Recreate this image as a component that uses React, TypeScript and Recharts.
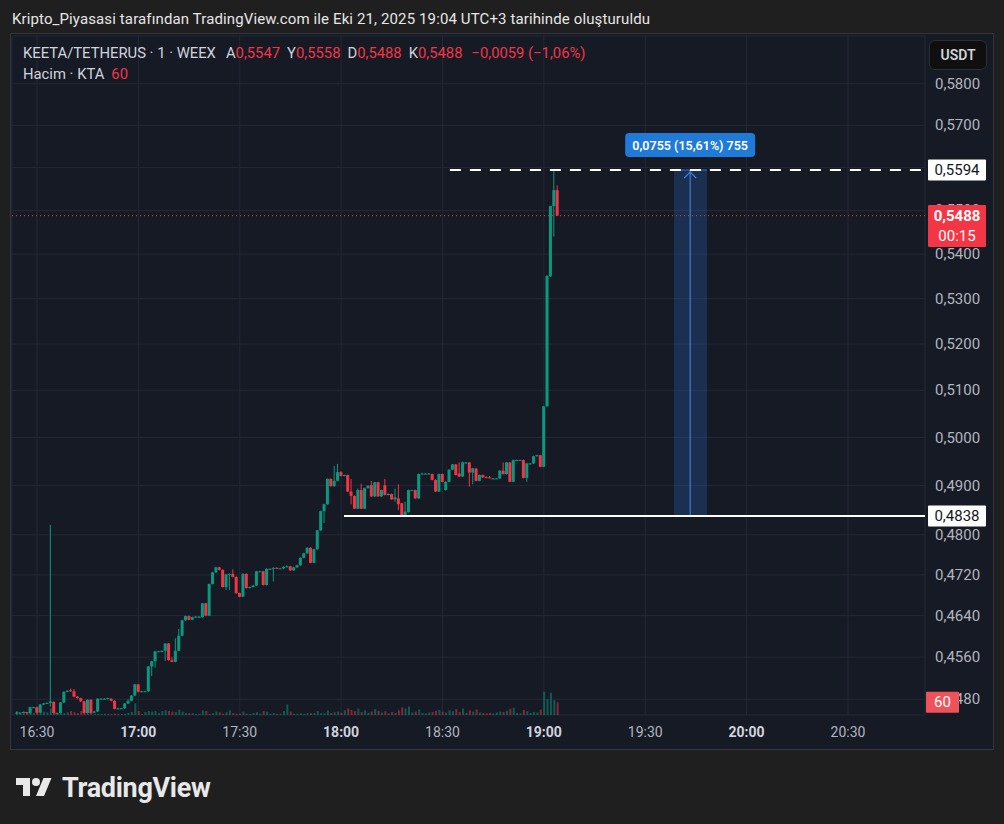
import React from 'react';
import {
  ComposedChart, Bar, XAxis, YAxis, CartesianGrid, ReferenceLine,
  ReferenceArea, ReferenceDot, Cell,
} from 'recharts';

// 1-minute candles, first one at 16:24
const FIRST_MINUTE = 16 * 60 + 24;

const opens = [
  0.4454, 0.4455, 0.4455, 0.4456, 0.4454, 0.4465, 0.4465, 0.4455, 0.4470, 0.4472,
  0.4473, 0.4475, 0.4454, 0.4454, 0.4474, 0.4494, 0.4497, 0.4495, 0.4485, 0.4482,
  0.4476, 0.4454, 0.4479, 0.4455, 0.4457, 0.4481, 0.4481, 0.4481, 0.4481, 0.4477,
  0.4462, 0.4463, 0.4463, 0.4472, 0.4477, 0.4487, 0.4508, 0.4494, 0.4495, 0.4495,
  0.4542, 0.4552, 0.4571, 0.4571, 0.4572, 0.4586, 0.4554, 0.4551, 0.4572, 0.4601,
  0.4631, 0.4639, 0.4632, 0.4637, 0.4638, 0.4637, 0.4664, 0.4640, 0.4702, 0.4725,
  0.4735, 0.4730, 0.4696, 0.4721, 0.4722, 0.4716, 0.4684, 0.4677, 0.4722, 0.4694,
  0.4696, 0.4699, 0.4727, 0.4727, 0.4700, 0.4732, 0.4732, 0.4734, 0.4733, 0.4733,
  0.4736, 0.4737, 0.4729, 0.4735, 0.4739, 0.4754, 0.4763, 0.4774, 0.4744, 0.4771,
  0.4809, 0.4848, 0.4862, 0.4914, 0.4899, 0.4910, 0.4928, 0.4920, 0.4922, 0.4888,
  0.4879, 0.4853, 0.4891, 0.4853, 0.4895, 0.4901, 0.4878, 0.4907, 0.4878, 0.4901,
  0.4881, 0.4883, 0.4872, 0.4874, 0.4864, 0.4840, 0.4846, 0.4891, 0.4891, 0.4874,
  0.4924, 0.4925, 0.4925, 0.4924, 0.4912, 0.4888, 0.4924, 0.4891, 0.4908, 0.4933,
  0.4944, 0.4925, 0.4919, 0.4946, 0.4948, 0.4927, 0.4935, 0.4910, 0.4922, 0.4918,
  0.4917, 0.4914, 0.4915, 0.4915, 0.4931, 0.4924, 0.4948, 0.4908, 0.4952, 0.4952,
  0.4953, 0.4916, 0.4945, 0.4946, 0.4961, 0.4963, 0.4939, 0.5066, 0.5350, 0.5510,
  0.5547,
];

const highs = [
  0.4456, 0.4456, 0.4457, 0.4456, 0.4466, 0.4466, 0.4466, 0.4471, 0.4473, 0.4474,
  0.4820, 0.4476, 0.4455, 0.4475, 0.4495, 0.4497, 0.4500, 0.4499, 0.4486, 0.4483,
  0.4477, 0.4480, 0.4480, 0.4458, 0.4482, 0.4482, 0.4482, 0.4483, 0.4482, 0.4478,
  0.4464, 0.4464, 0.4473, 0.4480, 0.4488, 0.4509, 0.4509, 0.4496, 0.4496, 0.4543,
  0.4553, 0.4572, 0.4572, 0.4573, 0.4587, 0.4587, 0.4560, 0.4596, 0.4614, 0.4632,
  0.4640, 0.4640, 0.4638, 0.4639, 0.4639, 0.4665, 0.4665, 0.4703, 0.4726, 0.4736,
  0.4736, 0.4731, 0.4722, 0.4723, 0.4731, 0.4717, 0.4685, 0.4723, 0.4723, 0.4697,
  0.4700, 0.4728, 0.4728, 0.4728, 0.4733, 0.4733, 0.4735, 0.4735, 0.4734, 0.4737,
  0.4739, 0.4738, 0.4736, 0.4740, 0.4755, 0.4764, 0.4775, 0.4775, 0.4772, 0.4810,
  0.4849, 0.4863, 0.4915, 0.4915, 0.4941, 0.4945, 0.4930, 0.4923, 0.4923, 0.4914,
  0.4880, 0.4894, 0.4904, 0.4896, 0.4901, 0.4910, 0.4908, 0.4908, 0.4892, 0.4914,
  0.4884, 0.4884, 0.4894, 0.4903, 0.4865, 0.4867, 0.4892, 0.4892, 0.4892, 0.4925,
  0.4927, 0.4926, 0.4926, 0.4925, 0.4913, 0.4925, 0.4925, 0.4909, 0.4934, 0.4945,
  0.4945, 0.4948, 0.4950, 0.4949, 0.4949, 0.4937, 0.4937, 0.4923, 0.4923, 0.4919,
  0.4920, 0.4916, 0.4916, 0.4932, 0.4948, 0.4949, 0.4949, 0.4954, 0.4954, 0.4954,
  0.4954, 0.4947, 0.4947, 0.4962, 0.4964, 0.4964, 0.5067, 0.5352, 0.5511, 0.5594,
  0.5558,
];

const lows = [
  0.4452, 0.4453, 0.4454, 0.4453, 0.4453, 0.4464, 0.4453, 0.4454, 0.4469, 0.4471,
  0.4466, 0.4453, 0.4453, 0.4453, 0.4473, 0.4493, 0.4494, 0.4484, 0.4481, 0.4475,
  0.4453, 0.4453, 0.4453, 0.4454, 0.4456, 0.4480, 0.4480, 0.4480, 0.4476, 0.4461,
  0.4461, 0.4462, 0.4462, 0.4471, 0.4476, 0.4486, 0.4493, 0.4493, 0.4494, 0.4494,
  0.4524, 0.4540, 0.4570, 0.4569, 0.4553, 0.4553, 0.4550, 0.4550, 0.4571, 0.4600,
  0.4630, 0.4631, 0.4631, 0.4636, 0.4635, 0.4636, 0.4639, 0.4639, 0.4701, 0.4724,
  0.4729, 0.4695, 0.4690, 0.4690, 0.4715, 0.4683, 0.4676, 0.4676, 0.4693, 0.4693,
  0.4695, 0.4698, 0.4726, 0.4699, 0.4699, 0.4731, 0.4707, 0.4732, 0.4732, 0.4731,
  0.4735, 0.4728, 0.4728, 0.4734, 0.4738, 0.4753, 0.4762, 0.4743, 0.4743, 0.4770,
  0.4808, 0.4824, 0.4861, 0.4898, 0.4898, 0.4909, 0.4919, 0.4919, 0.4887, 0.4862,
  0.4852, 0.4852, 0.4852, 0.4852, 0.4894, 0.4877, 0.4877, 0.4877, 0.4877, 0.4880,
  0.4880, 0.4871, 0.4867, 0.4850, 0.4839, 0.4839, 0.4845, 0.4890, 0.4873, 0.4873,
  0.4923, 0.4924, 0.4924, 0.4911, 0.4887, 0.4887, 0.4907, 0.4890, 0.4907, 0.4932,
  0.4921, 0.4918, 0.4918, 0.4945, 0.4898, 0.4903, 0.4909, 0.4909, 0.4916, 0.4915,
  0.4915, 0.4913, 0.4914, 0.4914, 0.4923, 0.4923, 0.4907, 0.4907, 0.4951, 0.4951,
  0.4915, 0.4908, 0.4944, 0.4945, 0.4960, 0.4938, 0.4938, 0.5065, 0.5349, 0.5440,
  0.5488,
];

const closes = [
  0.4455, 0.4455, 0.4456, 0.4454, 0.4465, 0.4465, 0.4455, 0.4470, 0.4472, 0.4473,
  0.4476, 0.4454, 0.4454, 0.4474, 0.4494, 0.4496, 0.4495, 0.4485, 0.4482, 0.4476,
  0.4454, 0.4479, 0.4454, 0.4457, 0.4481, 0.4481, 0.4481, 0.4482, 0.4477, 0.4462,
  0.4463, 0.4463, 0.4472, 0.4477, 0.4487, 0.4508, 0.4494, 0.4495, 0.4495, 0.4542,
  0.4552, 0.4571, 0.4571, 0.4572, 0.4586, 0.4554, 0.4551, 0.4572, 0.4601, 0.4631,
  0.4639, 0.4632, 0.4637, 0.4638, 0.4638, 0.4664, 0.4640, 0.4702, 0.4725, 0.4735,
  0.4730, 0.4696, 0.4721, 0.4722, 0.4716, 0.4684, 0.4677, 0.4722, 0.4694, 0.4696,
  0.4699, 0.4727, 0.4727, 0.4700, 0.4732, 0.4732, 0.4734, 0.4733, 0.4733, 0.4736,
  0.4737, 0.4729, 0.4735, 0.4739, 0.4754, 0.4763, 0.4774, 0.4744, 0.4771, 0.4809,
  0.4848, 0.4862, 0.4914, 0.4899, 0.4910, 0.4928, 0.4920, 0.4922, 0.4888, 0.4879,
  0.4853, 0.4891, 0.4853, 0.4895, 0.4900, 0.4878, 0.4907, 0.4878, 0.4891, 0.4881,
  0.4883, 0.4872, 0.4876, 0.4862, 0.4840, 0.4847, 0.4891, 0.4891, 0.4874, 0.4924,
  0.4925, 0.4925, 0.4925, 0.4912, 0.4888, 0.4924, 0.4908, 0.4908, 0.4933, 0.4944,
  0.4922, 0.4919, 0.4948, 0.4948, 0.4927, 0.4936, 0.4910, 0.4922, 0.4917, 0.4916,
  0.4916, 0.4915, 0.4915, 0.4931, 0.4924, 0.4948, 0.4908, 0.4953, 0.4953, 0.4953,
  0.4916, 0.4946, 0.4946, 0.4961, 0.4963, 0.4939, 0.5066, 0.5351, 0.5510, 0.5547,
  0.5488,
];

const volumes = [
  19, 5, 16, 8, 28, 9, 13, 22, 16, 13,
  31, 13, 5, 6, 9, 13, 19, 13, 9, 19,
  6, 5, 6, 5, 5, 5, 5, 5, 5, 6,
  5, 5, 5, 9, 14, 55, 19, 5, 14, 19,
  16, 19, 9, 19, 22, 19, 16, 14, 25, 16,
  9, 9, 8, 5, 6, 22, 19, 6, 8, 16,
  13, 6, 13, 22, 9, 6, 6, 16, 6, 6,
  9, 13, 6, 19, 16, 6, 9, 6, 6, 19,
  50, 16, 6, 6, 8, 6, 9, 8, 9, 19,
  9, 8, 22, 9, 13, 16, 11, 22, 31, 24,
  18, 30, 14, 22, 10, 16, 28, 20, 12, 18,
  8, 14, 10, 22, 36, 30, 40, 12, 16, 26,
  10, 8, 12, 14, 20, 24, 16, 12, 22, 18,
  28, 14, 30, 10, 22, 16, 26, 12, 10, 8,
  10, 8, 12, 16, 14, 20, 30, 34, 10, 8,
  24, 18, 10, 14, 12, 26, 110, 75, 105, 70,
  60,
];

const priceTicks = [0.448, 0.456, 0.464, 0.472, 0.48, 0.49, 0.5, 0.51, 0.52, 0.53, 0.54, 0.55, 0.56, 0.57, 0.58];
const timeTicks = [990, 1020, 1050, 1080, 1110, 1140, 1170, 1200, 1230];

const lastPrice = 0.5488;
const lastVolume = 60;
const rangeLow = 0.4838;
const rangeHigh = 0.5594;
const rangeLabel = '0,0755 (15,61%) 755';

const UP = '#089981';
const DOWN = '#f23645';
const FONT = 'Roboto, sans-serif';

const X_DOMAIN = [982.6, 1252.8];
const Y_DOMAIN = [0.44505, 0.59176];
const VOL_DOMAIN = [0, 3200];

const rows = opens.map((o, i) => ({
  t: FIRST_MINUTE + i,
  open: o,
  high: highs[i],
  low: lows[i],
  close: closes[i],
  range: [lows[i], highs[i]],
  vol: volumes[i],
}));

const fmt = (v: number) => v.toFixed(4).replace('.', ',');

// body + wick; open/close placed inside the low..high span on the log scale
const Candle = (props: any) => {
  const { x, y, width, height, payload } = props;
  if (x == null || y == null) return null;
  const top = Math.min(y, y + height);
  const bottom = Math.max(y, y + height);
  const { open, high, low, close } = payload;
  const span = Math.log(high) - Math.log(low);
  const toY = (v: number) => (span > 0 ? top + ((Math.log(high) - Math.log(v)) / span) * (bottom - top) : top);
  const color = close >= open ? UP : DOWN;
  const cx = x + width / 2;
  const yo = toY(open);
  const yc = toY(close);
  const bodyTop = Math.min(yo, yc);
  const bodyH = Math.max(Math.abs(yc - yo), 1);
  return (
    <g>
      <line x1={cx} x2={cx} y1={top} y2={bottom} stroke={color} strokeWidth={1} />
      <rect x={x} y={bodyTop} width={width} height={bodyH} fill={color} />
    </g>
  );
};

const TimeTick = (props: any) => {
  const { x, y, payload } = props;
  const m = payload.value;
  const onHour = m % 60 === 0;
  const label = `${Math.floor(m / 60)}:${String(m % 60).padStart(2, '0')}`;
  return (
    <text x={x} y={y + 17} textAnchor="middle" dominantBaseline="central"
      fill={onHour ? '#d1d4dc' : '#b2b5be'} fontWeight={onHour ? 700 : 400} fontSize={14} fontFamily={FONT}>
      {label}
    </text>
  );
};

const PriceTick = (props: any) => {
  const { x, y, payload } = props;
  return (
    <text x={x + 10} y={y} textAnchor="start" dominantBaseline="central" fill="#b2b5be" fontSize={15} fontFamily={FONT}>
      {fmt(payload.value)}
    </text>
  );
};

const tag = (text: string, bg: string, fg: string, w = 58, sub?: string, dx = 3) => (p: any) => {
  const vb = p.viewBox;
  if (!vb) return null;
  const x = vb.x + vb.width + dx;
  const y = vb.y;
  const h = sub ? 42 : 21;
  const top = y - 10.5;
  return (
    <g>
      <rect x={x} y={top} width={w} height={h} fill={bg} rx={1} />
      <text x={x + w / 2} y={y} textAnchor="middle" dominantBaseline="central" fill={fg} fontSize={15} fontFamily={FONT} fontWeight={sub ? 700 : 400}>
        {text}
      </text>
      {sub && (
        <text x={x + w / 2} y={y + 20} textAnchor="middle" dominantBaseline="central" fill={fg} fontSize={15} fontFamily={FONT}>
          {sub}
        </text>
      )}
    </g>
  );
};

const MeasureHead = (props: any) => {
  const { cx, cy } = props;
  if (cx == null || cy == null) return null;
  return (
    <g>
      <polyline points={`${cx - 6},${cy + 8} ${cx},${cy + 2} ${cx + 6},${cy + 8}`} fill="none" stroke="#3d7fe0" strokeWidth={1.2} />
      <rect x={cx - 65} y={cy - 37} width={130} height={24} rx={4} fill="#1f7ad8" />
      <text x={cx} y={cy - 25} textAnchor="middle" dominantBaseline="central" fill="#ffffff" fontSize={12.5} fontWeight={600} fontFamily={FONT}>
        {rangeLabel}
      </text>
    </g>
  );
};

const TvLogo = () => (
  <svg width="36" height="28" viewBox="0 0 36 28">
    <path d="M14 22H7V11H0V4h14v18zM28 22h-8l7.5-18h8L28 22z" fill="#e8e8e8" />
    <circle cx="20" cy="8" r="4" fill="#e8e8e8" />
  </svg>
);

export default function App() {
  const legendGrey = '#d1d4dc';
  const red = '#f23645';
  return (
    <div style={{ position: 'absolute', left: 0, top: 0, width: 1004, height: 824, background: '#1f1f1f', fontFamily: FONT, overflow: 'hidden' }}>
      <div style={{ position: 'absolute', left: 12, top: 10, fontSize: 15, letterSpacing: 0.12, color: '#e6e6e6', whiteSpace: 'nowrap' }}>
        Kripto_Piyasasi tarafından TradingView.com ile Eki 21, 2025 19:04 UTC+3 tarihinde oluşturuldu
      </div>
      <div style={{ position: 'absolute', left: 10, top: 33, width: 982, height: 715, background: '#161a25', border: '1px solid #33363f' }} />

      {/* price pane: grid, axes, volume, candles, drawings */}
      <div style={{ position: 'absolute', left: 0, top: 0 }}>
        <ComposedChart width={1004} height={824} data={rows} margin={{ top: 36, right: 14, bottom: 74, left: 12 }}>
          <CartesianGrid stroke="#242835" strokeWidth={1} />
          <XAxis dataKey="t" type="number" domain={X_DOMAIN} allowDataOverflow ticks={timeTicks}
            height={35} axisLine={false} tickLine={false} tickSize={0} tickMargin={0} tick={<TimeTick />} />
          <XAxis xAxisId="v" dataKey="t" type="number" domain={X_DOMAIN} allowDataOverflow hide />
          <YAxis orientation="right" scale="log" domain={Y_DOMAIN} allowDataOverflow ticks={priceTicks}
            width={65} axisLine={false} tickLine={false} tickSize={0} tickMargin={0} tick={<PriceTick />} interval={0} />
          <YAxis yAxisId="v" domain={VOL_DOMAIN} allowDataOverflow hide />
          <Bar xAxisId="v" yAxisId="v" dataKey="vol" barSize={2} isAnimationActive={false}>
            {rows.map((r, i) => (
              <Cell key={i} fill={r.close >= r.open ? 'rgba(8,153,129,0.5)' : 'rgba(242,54,69,0.5)'} />
            ))}
          </Bar>
          <ReferenceArea x1={1178.5} x2={1188.3} y1={rangeLow} y2={rangeHigh} fill="#2a6bd1" fillOpacity={0.26} stroke="none" />
          <ReferenceLine segment={[{ x: 1178.5, y: rangeHigh }, { x: 1188.3, y: rangeHigh }]} stroke="#2f6fd6" strokeWidth={1} />
          <ReferenceLine segment={[{ x: 1183.3, y: rangeLow }, { x: 1183.3, y: rangeHigh }]} stroke="#4a8ae6" strokeWidth={1} />
          <Bar dataKey="range" barSize={3} shape={(p: any) => <Candle {...p} />} isAnimationActive={false} />
          <ReferenceLine y={lastPrice} stroke={red} strokeDasharray="1 3" strokeWidth={1} />
          <ReferenceLine segment={[{ x: 1112.2, y: rangeHigh }, { x: 1252.8, y: rangeHigh }]} stroke="#ffffff" strokeWidth={2} strokeDasharray="11 9" />
          <ReferenceLine segment={[{ x: 1080.85, y: rangeLow }, { x: 1252.8, y: rangeLow }]} stroke="#ffffff" strokeWidth={2} />
        </ComposedChart>
      </div>

      {/* same scales, drawn on top so the axis tags cover the tick labels */}
      <div style={{ position: 'absolute', left: 0, top: 0, pointerEvents: 'none' }}>
        <ComposedChart width={1004} height={824} data={rows} margin={{ top: 36, right: 79, bottom: 109, left: 12 }}>
          <XAxis dataKey="t" type="number" domain={X_DOMAIN} allowDataOverflow hide />
          <YAxis scale="log" domain={Y_DOMAIN} allowDataOverflow hide />
          <YAxis yAxisId="v" domain={VOL_DOMAIN} allowDataOverflow hide />
          <ReferenceDot x={1183.3} y={rangeHigh} r={0} shape={(p: any) => <MeasureHead {...p} />} />
          <ReferenceLine y={rangeHigh} stroke="none" label={tag(fmt(rangeHigh), '#ffffff', '#131722')} />
          <ReferenceLine y={rangeLow} stroke="none" label={tag(fmt(rangeLow), '#ffffff', '#131722')} />
          <ReferenceLine y={lastPrice} stroke="none" label={tag(fmt(lastPrice), red, '#ffffff', 58, '00:15')} />
          <ReferenceLine yAxisId="v" y={lastVolume} stroke="none" label={tag(String(lastVolume), '#f0525b', '#ffffff', 33, undefined, 1)} />
        </ComposedChart>
      </div>

      <div style={{ position: 'absolute', left: 23, top: 44, fontSize: 14.8, lineHeight: '18px', color: legendGrey, whiteSpace: 'nowrap' }}>
        <span>KEETA/TETHERUS · 1 · WEEX</span>
        <span style={{ marginLeft: 10 }}>A</span><span style={{ color: red }}>{fmt(0.5547)}</span>
        <span style={{ marginLeft: 7 }}>Y</span><span style={{ color: red }}>{fmt(0.5558)}</span>
        <span style={{ marginLeft: 7 }}>D</span><span style={{ color: red }}>{fmt(0.5488)}</span>
        <span style={{ marginLeft: 7 }}>K</span><span style={{ color: red }}>{fmt(0.5488)}</span>
        <span style={{ marginLeft: 9, color: red }}>−0,0059 (−1,06%)</span>
      </div>
      <div style={{ position: 'absolute', left: 23, top: 65, fontSize: 14.8, lineHeight: '18px', color: legendGrey, whiteSpace: 'nowrap' }}>
        <span>Hacim · KTA</span>
        <span style={{ marginLeft: 7, color: red }}>{lastVolume}</span>
      </div>
      <div style={{ position: 'absolute', left: 929, top: 40, width: 58, height: 30, boxSizing: 'border-box', background: '#0f0f0f', border: '1px solid #2e2e2e', borderRadius: 6, color: '#d1d4dc', fontSize: 14, fontWeight: 600, display: 'flex', alignItems: 'center', justifyContent: 'center' }}>
        USDT
      </div>
      <div style={{ position: 'absolute', left: 16, top: 772, display: 'flex', alignItems: 'center' }}>
        <TvLogo />
        <span style={{ marginLeft: 10, fontSize: 27, fontWeight: 700, color: '#e8e8e8', letterSpacing: -0.3 }}>TradingView</span>
      </div>
    </div>
  );
}
